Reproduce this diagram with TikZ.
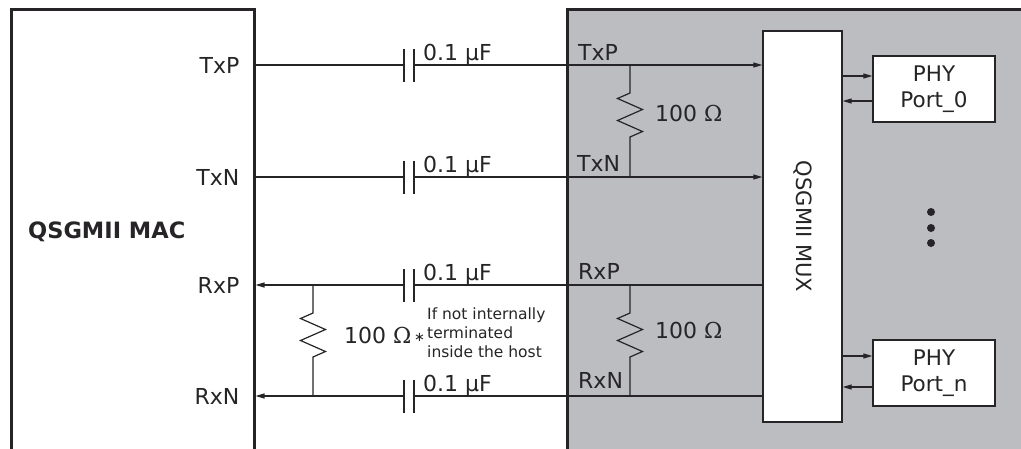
\documentclass[tikz,border=0pt]{standalone}
\usepackage{fontspec}
\setmainfont{DejaVu Sans}
\newfontfamily\omfont{DejaVu Serif}
\usetikzlibrary{arrows.meta}
\definecolor{ink}{RGB}{38,36,38}
\definecolor{hostgray}{RGB}{188,189,193}
\newcommand{\ohm}{{\omfont Ω}}
\begin{document}
\begin{tikzpicture}[x=1pt,y=-1pt,
  wire/.style={draw=ink, line width=1.2pt},
  arr/.style={wire, -{Triangle[length=9pt,width=5pt]}},
  lbl/.style={font=\fontsize{22}{27}\selectfont, text=ink, inner sep=0pt},
  small/.style={font=\fontsize{15.5}{19}\selectfont, text=ink, inner sep=0pt, align=left},
  box/.style={draw=ink, line width=1.3pt, fill=white, inner sep=0pt},
  capnode/.style={minimum width=10pt, minimum height=33pt, inner sep=0pt, outer sep=0pt},
  plate/.style={draw=ink, line width=1.2pt},
  dotnode/.style={circle, fill=ink, minimum size=8pt, inner sep=0pt}
]
\useasboundingbox (0,0) rectangle (1021,448);
\clip (0,0) rectangle (1021,448);
% host (gray) area and MAC box
\node[draw=ink, fill=hostgray, line width=2.5pt, minimum width=480pt, minimum height=470pt, inner sep=0pt, anchor=north west] (host) at (566,8) {};
\node[draw=ink, fill=white, line width=2.5pt, minimum width=243pt, minimum height=470pt, inner sep=0pt, anchor=north west] (mac) at (10,8) {};
\node[lbl, font=\fontsize{22.5}{27}\selectfont\bfseries, anchor=west] (macname) at (28,232) {QSGMII MAC};

% MUX and PHY boxes
\node[box, minimum width=79pt, minimum height=391pt] (mux) at (802.5,226.5) {};
\node[lbl, font=\fontsize{21}{26}\selectfont, rotate=-90] (muxname) at (mux.center) {QSGMII MUX};
\node[box, lbl, font=\fontsize{21.5}{26}\selectfont, minimum width=122pt, minimum height=66pt, align=center] (phy0) at (934,89) {PHY\\Port\_0};
\node[box, lbl, font=\fontsize{21.5}{26}\selectfont, minimum width=122pt, minimum height=66pt, align=center] (phyn) at (934,373) {PHY\\Port\_n};
\node[dotnode] (d1) at (931,212) {};
\node[dotnode] (d2) at (931,228) {};
\node[dotnode] (d3) at (931,243) {};

% capacitors
\node[capnode] (ctxp) at (409,65) {};
\node[capnode] (ctxn) at (409,177) {};
\node[capnode] (crxp) at (409,285) {};
\node[capnode] (crxn) at (409,396) {};
\foreach \c in {ctxp,ctxn,crxp,crxn}{
  \draw[plate] (\c.north west) -- (\c.south west);
  \draw[plate] (\c.north east) -- (\c.south east);
  \node[lbl, anchor=base west] at ([xshift=9pt,yshift=5pt]\c.east) {0.1 μF};
}

% wires
\coordinate (mtxp) at (mac.east |- ctxp.west);
\coordinate (mtxn) at (mac.east |- ctxn.west);
\coordinate (mrxp) at (mac.east |- crxp.west);
\coordinate (mrxn) at (mac.east |- crxn.west);
\coordinate (xtxp) at (mux.west |- ctxp.east);
\coordinate (xtxn) at (mux.west |- ctxn.east);
\coordinate (xrxp) at (mux.west |- crxp.east);
\coordinate (xrxn) at (mux.west |- crxn.east);
\draw[wire] (mtxp) -- (ctxp.west);
\draw[arr] (ctxp.east) -- (xtxp);
\draw[wire] (mtxn) -- (ctxn.west);
\draw[arr] (ctxn.east) -- (xtxn);
\draw[wire] (xrxp) -- (crxp.east);
\draw[arr] (crxp.west) -- (mrxp);
\draw[wire] (xrxn) -- (crxn.east);
\draw[arr] (crxn.west) -- (mrxn);

% MAC pin labels
\node[lbl, anchor=east] at ([xshift=-16pt]mtxp) {TxP};
\node[lbl, anchor=east] at ([xshift=-16pt]mtxn) {TxN};
\node[lbl, anchor=east] at ([xshift=-16pt]mrxp) {RxP};
\node[lbl, anchor=east] at ([xshift=-16pt]mrxn) {RxN};

% host side labels
\node[lbl, anchor=base west] at (578,60) {TxP};
\node[lbl, anchor=base west] at (577,171) {TxN};
\node[lbl, anchor=base west] at (578,279) {RxP};
\node[lbl, anchor=base west] at (578,388) {RxN};

% termination resistors
\coordinate (rt1) at (630,65);
\coordinate (rt2) at (630,177);
\coordinate (rr1) at (630,285);
\coordinate (rr2) at (630,396);
\coordinate (rm1) at (313,285);
\coordinate (rm2) at (313,396);
\foreach \a/\b in {rt1/rt2, rr1/rr2, rm1/rm2}{
  \draw[wire, line join=miter] (\a) -- ++(0,28) -- ++(-12.5,5.5) -- ++(25,11) -- ++(-25,11) -- ++(25,11) -- ++(-12.5,5.5) -- (\b);
}
\node[lbl, anchor=west] at (655,113) {100 \ohm};
\node[lbl, anchor=west] at (655,330) {100 \ohm};
\node[lbl, anchor=west] (rmlbl) at (344,335) {100 \ohm};
\node[text=ink, inner sep=0pt, font=\fontsize{13}{13}\selectfont] (star) at (419.5,337) {∗};
\node[small, anchor=west] at (427,333) {If not internally\\terminated\\inside the host};

% PHY links
\coordinate (p0a) at (mux.east |- 0,76);
\coordinate (p0b) at (mux.east |- 0,101);
\coordinate (pna) at (mux.east |- 0,356);
\coordinate (pnb) at (mux.east |- 0,387);
\draw[arr] (p0a) -- (phy0.west |- p0a);
\draw[arr] (phy0.west |- p0b) -- (p0b);
\draw[arr] (pna) -- (phyn.west |- pna);
\draw[arr] (phyn.west |- pnb) -- (pnb);
\end{tikzpicture}
\end{document}
